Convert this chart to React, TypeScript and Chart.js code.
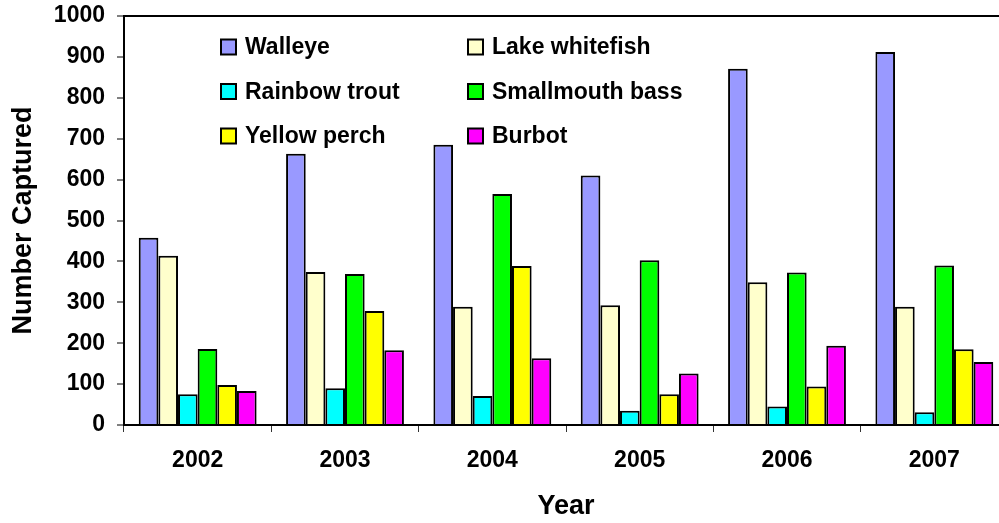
import React, { useEffect, useRef } from "react";
import { Chart, registerables } from "chart.js";

Chart.register(...registerables);

const years = ["2002", "2003", "2004", "2005", "2006", "2007"];
const seriesNames = ["Walleye", "Lake whitefish", "Rainbow trout", "Smallmouth bass", "Yellow perch", "Burbot"];
const walleye = [458, 663, 685, 610, 871, 912];
const lakeWhitefish = [414, 374, 289, 293, 349, 289];
const rainbowTrout = [75, 90, 71, 35, 45, 31];
const smallmouthBass = [186, 369, 565, 403, 373, 390];
const yellowPerch = [98, 279, 389, 75, 94, 185];
const burbot = [83, 183, 163, 126, 194, 154];
const seriesColors = ["#9999FF", "#FFFFCC", "#00FFFF", "#00FF00", "#FFFF00", "#FF00FF"];
const yTickMax = 1000;
const yTickStep = 100;

const FONT = "'Liberation Sans', Arial, sans-serif";

const insideLegend = {
  id: "insideLegend",
  afterDraw(chart: any) {
    const ctx = chart.ctx;
    const ds = chart.data.datasets;
    const colX = [221, 468];
    const rowY = [47, 91.5, 136];
    ctx.save();
    ctx.font = `bold 23px ${FONT}`;
    ctx.textBaseline = "middle";
    ctx.textAlign = "left";
    ds.forEach((d: any, i: number) => {
      const x = colX[i % 2];
      const y = rowY[Math.floor(i / 2)];
      ctx.fillStyle = d.backgroundColor;
      ctx.fillRect(x, y - 7.5, 15, 15);
      ctx.lineWidth = 2;
      ctx.strokeStyle = "#000";
      ctx.strokeRect(x, y - 7.5, 15, 15);
      ctx.fillStyle = "#000";
      ctx.fillText(d.label, x + 24, y + 1);
    });
    ctx.restore();
  },
};

export default function App() {
  const ref = useRef<HTMLCanvasElement>(null);
  useEffect(() => {
    if (!ref.current) return;
    const values = [walleye, lakeWhitefish, rainbowTrout, smallmouthBass, yellowPerch, burbot];
    const chart = new Chart(ref.current, {
      type: "bar",
      data: {
        labels: years,
        datasets: seriesNames.map((name, i) => ({
          label: name,
          data: values[i],
          backgroundColor: seriesColors[i],
          borderColor: "#000",
          borderWidth: 2,
          categoryPercentage: 0.8,
          barPercentage: 1.0,
        })),
      },
      options: {
        animation: false,
        responsive: false,
        devicePixelRatio: 1,
        layout: { padding: { top: 16, right: 2, left: 0, bottom: 0 } },
        plugins: { legend: { display: false }, tooltip: { enabled: false } },
        scales: {
          x: {
            offset: true,
            grid: { drawOnChartArea: false, drawTicks: true, tickLength: 7, tickColor: "#333", tickWidth: 1 },
            border: { display: true, color: "#000", width: 2 },
            ticks: { color: "#000", font: { family: FONT, size: 23, weight: "bold" }, padding: 15, maxRotation: 0 },
            title: { display: true, text: "Year", color: "#000", font: { family: FONT, size: 27, weight: "bold" }, padding: { top: 0, bottom: 0 } },
            afterFit: (s: any) => { s.height = 98; s.paddingLeft = 0; s.paddingRight = 0; },
          },
          y: {
            min: 0,
            max: yTickMax,
            grid: {
              drawOnChartArea: true,
              color: (c: any) => (c.tick && c.tick.value === yTickMax ? "#000" : "rgba(0,0,0,0)"),
              lineWidth: 2,
              tickLength: 7,
              tickColor: "#000",
              tickWidth: 1,
            },
            border: { display: true, color: "#000", width: 2 },
            ticks: {
              stepSize: yTickStep,
              color: "#000",
              font: { family: FONT, size: 23, weight: "bold" },
              padding: 12,
              callback: (v: any) => String(v),
            },
            title: { display: true, text: "Number Captured", color: "#000", font: { family: FONT, size: 27, weight: "bold" }, padding: { top: 7, bottom: 0 } },
            afterFit: (s: any) => { s.width = 124; s.paddingTop = 0; s.paddingBottom = 0; },
          },
        },
      },
      plugins: [insideLegend],
    });
    return () => chart.destroy();
  }, []);
  return (
    <div style={{ position: "absolute", left: 0, top: 0, width: 999, height: 523, overflow: "hidden", background: "#fff" }}>
      <canvas ref={ref} width={1010} height={523} style={{ display: "block", width: 1010, height: 523 }} />
    </div>
  );
}
